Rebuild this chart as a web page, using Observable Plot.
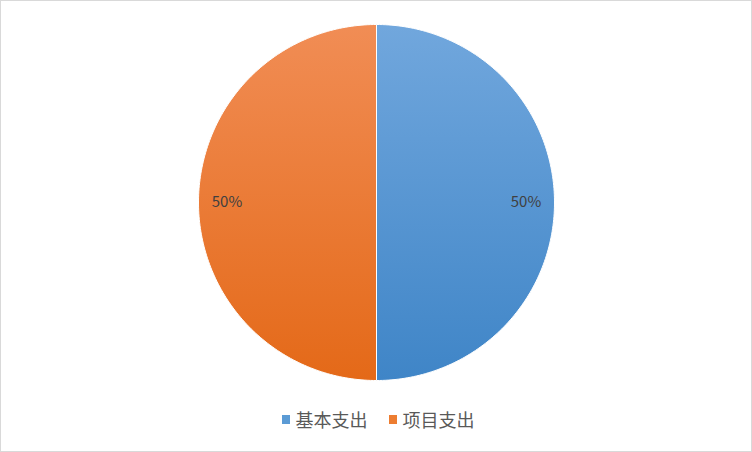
<!DOCTYPE html>
<html>
<head>
<meta charset="utf-8">
<script src="https://cdn.jsdelivr.net/npm/d3@7"></script>
<script src="https://cdn.jsdelivr.net/npm/@observablehq/plot@0.6"></script>
<style>
  html, body { margin: 0; padding: 0; background: #fff; }
  #frame { width: 750px; height: 450px; border: 1px solid #d9d9d9; position: relative; background: #fff; }
  #legend { position: absolute; left: 0; top: 408px; width: 750px; display: flex; justify-content: center; align-items: center; gap: 21px;
            font-family: "Noto Sans CJK SC", "Noto Sans", sans-serif; font-size: 18px; line-height: 20px; color: #595959; padding-left: 4px; box-sizing: border-box; }
  .item { display: flex; align-items: center; gap: 6px; }
  .sw { width: 8px; height: 9px; display: inline-block; }
</style>
</head>
<body>
<div id="frame"><div id="chart"></div><div id="legend"></div></div>
<script>
const categories = ["基本支出", "项目支出"];
const values = [50, 50];
const labels = ["50%", "50%"];
const gradients = [["#71a7dd", "#3f85c7"], ["#f18d55", "#e46918"]];
const swatchColors = ["#5b9bd5", "#ed7d31"];

const rows = categories.map((c, i) => ({name: c, value: values[i], label: labels[i], idx: i}));
const arcs = d3.pie().value(d => d.value).sort(null)(rows);

// polygon points for each slice, in unit-circle coordinates (angle 0 = 12 o'clock, clockwise)
const pts = [];
arcs.forEach(a => {
  const n = Math.max(2, Math.ceil((a.endAngle - a.startAngle) / (Math.PI / 180)));
  pts.push({name: a.data.name, x: 0, y: 0});
  for (let k = 0; k <= n; k++) {
    const t = a.startAngle + (a.endAngle - a.startAngle) * k / n;
    pts.push({name: a.data.name, x: Math.sin(t), y: Math.cos(t)});
  }
  pts.push({name: a.data.name, x: 0, y: 0});
});
const labelPts = arcs.map(a => {
  const m = (a.startAngle + a.endAngle) / 2;
  return {label: a.data.label, x: 0.84 * Math.sin(m), y: 0.84 * Math.cos(m)};
});

const cx = 375, cy = 201, r = 178;
const svg = Plot.plot({
  width: 750, height: 400,
  margin: 0,
  x: {domain: [-1, 1], range: [cx - r, cx + r], axis: null},
  y: {domain: [-1, 1], range: [cy + r, cy - r], axis: null},
  marks: [
    ...categories.map((c, i) => Plot.line(pts.filter(p => p.name === c), {
      x: "x", y: "y", fill: `url(#grad${i})`, stroke: "#ffffff", strokeWidth: 1, curve: "linear"
    })),
    Plot.text(labelPts, {x: "x", y: "y", text: "label", fill: "#404040", fontSize: 15,
      fontFamily: "Noto Sans CJK SC, Noto Sans, sans-serif"})
  ]
});
const defs = d3.select(svg).insert("defs", ":first-child");
gradients.forEach((g, i) => {
  const lg = defs.append("linearGradient").attr("id", `grad${i}`).attr("x1", 0).attr("y1", 0).attr("x2", 0).attr("y2", 1);
  lg.append("stop").attr("offset", "0%").attr("stop-color", g[0]);
  lg.append("stop").attr("offset", "100%").attr("stop-color", g[1]);
});
document.getElementById("chart").appendChild(svg);

const legend = document.getElementById("legend");
categories.forEach((c, i) => {
  const it = document.createElement("div");
  it.className = "item";
  it.innerHTML = `<span class="sw" style="background:${swatchColors[i]}"></span><span>${c}</span>`;
  legend.appendChild(it);
});
</script>
</body>
</html>
